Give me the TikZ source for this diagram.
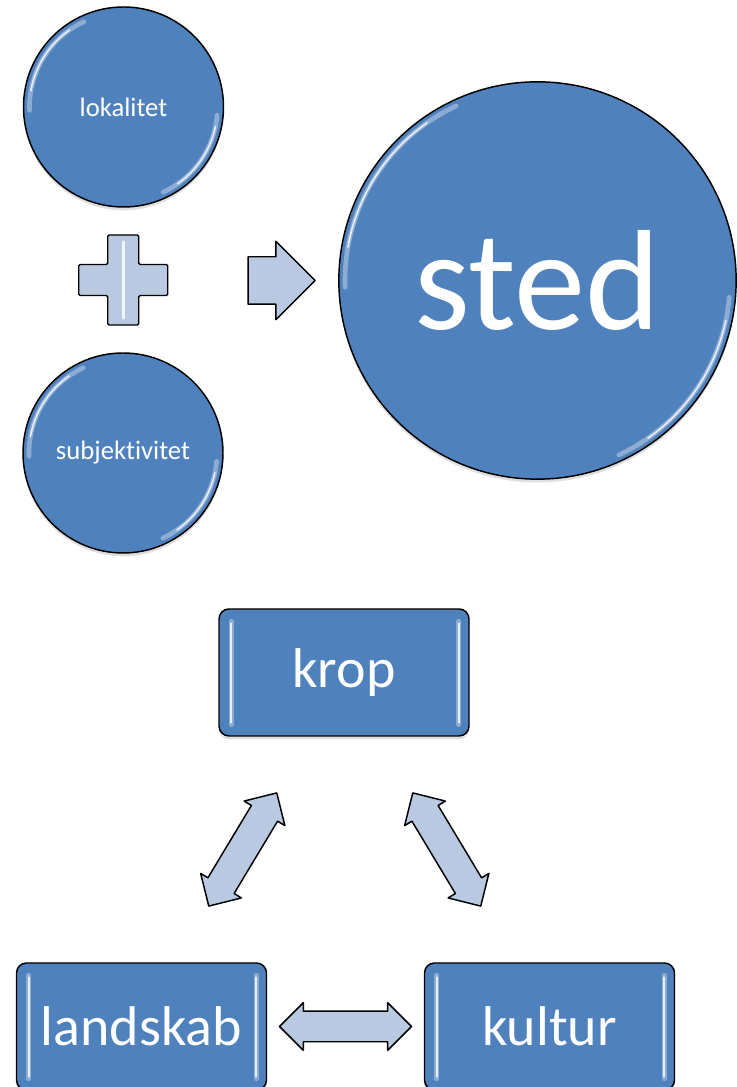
\documentclass[tikz,border=0pt]{standalone}
\usepackage{fontspec}
\setmainfont{Carlito}[RawFeature=-liga]
\usetikzlibrary{shapes.arrows,shadows,calc,positioning}

\definecolor{accent}{RGB}{79,129,189}
\definecolor{arrowfill}{RGB}{185,201,226}

\tikzset{
  ball/.style={circle, draw=black, line width=1.1pt, fill=accent, text=white, inner sep=0pt,
    drop shadow={opacity=0.25, shadow xshift=0pt, shadow yshift=-2.5pt}},
  tile/.style={rectangle, rounded corners=7.5pt, draw=black, line width=1.1pt, fill=accent, text=white,
    minimum width=187.5pt, minimum height=95.25pt, inner sep=0pt, font=\fontsize{42}{42}\selectfont,
    drop shadow={opacity=0.25, shadow xshift=0pt, shadow yshift=-2.5pt}},
  glint/.style={white, opacity=0.35, line width=3.5pt, line cap=round},
  spark/.style={white, opacity=0.8, line width=1.2pt, line cap=round},
  bevel/.style={draw=black, line width=1.1pt, fill=arrowfill, line join=round},
  link/.style={double arrow, bevel, minimum height=99pt, inner sep=0pt, inner ysep=10.9pt,
    double arrow head extend=6.4pt}
}

\begin{document}
\begin{tikzpicture}[x=0.75pt, y=0.75pt]
  \useasboundingbox (0,0) rectangle (737,1087);

  % Top part: lokalitet + subjektivitet => sted
  \node[ball, minimum size=150pt, font=\fontsize{20}{20}\selectfont] (lokalitet) at (123.5,980) {lokalitet};
  \node[ball, minimum size=150pt, font=\fontsize{20}{20}\selectfont] (subjektivitet) at (123,634) {subjektivitet};
  \node[ball, minimum size=298pt, font=\fontsize{107}{107}\selectfont] (sted) at (537.5,806.5) {sted};

  % Glossy highlights on the circles
  \foreach \n/\r in {lokalitet/100, subjektivitet/100, sted/198.5} {
    \draw[glint] (\n.center) ++(115:\r-6) arc[start angle=115, end angle=182, radius=\r-6];
    \draw[glint] (\n.center) ++(-5:\r-6) arc[start angle=-5, end angle=-65, radius=\r-6];
    \draw[spark] (\n.center) ++(125:\r-6) arc[start angle=125, end angle=170, radius=\r-6];
    \draw[spark] (\n.center) ++(-12:\r-6) arc[start angle=-12, end angle=-55, radius=\r-6];
  }

  % Plus sign between the two small circles
  \coordinate (plusc) at ($(lokalitet.south)!0.5!(subjektivitet.north)$);
  \draw[bevel, rounded corners=1pt, shift={(plusc)}] (-15.5,-45) -- (15.5,-45) -- (15.5,-15.5) -- (44.5,-15.5)
    -- (44.5,15.5) -- (15.5,15.5) -- (15.5,45) -- (-15.5,45) -- (-15.5,15.5) -- (-44.5,15.5)
    -- (-44.5,-15.5) -- (-15.5,-15.5) -- cycle;
  \draw[spark, line width=2.5pt, shift={(plusc)}] (0,-38) -- (0,38); % bevel ridge

  % Arrow into sted
  \node[single arrow, bevel, minimum height=50.25pt, inner sep=0pt, inner ysep=17.25pt,
    single arrow head extend=11.6pt, anchor=tip] (into) at ([xshift=-16.5pt]sted.west) {};

  % Bottom part: krop, landskab, kultur
  \node[tile] (krop) at (344,414.5) {krop};
  \node[tile] (landskab) at (141.5,60.5) {landskab};
  \node[tile] (kultur) at (549.5,60.5) {kultur};

  % Highlight strips on the boxes
  \foreach \n in {krop, landskab, kultur} {
    \draw[glint] ([shift={(13,-13)}]\n.north west) -- ([shift={(13,12)}]\n.south west);
    \draw[glint] ([shift={(-11,-13)}]\n.north east) -- ([shift={(-11,12)}]\n.south east);
    \draw[spark] ([shift={(13,-15)}]\n.north west) -- ([shift={(13,14)}]\n.south west);
    \draw[spark] ([shift={(-11,-15)}]\n.north east) -- ([shift={(-11,14)}]\n.south east);
  }

  % Double arrows between the boxes
  \node[link, rotate=59] (krop-landskab) at ($(krop.south west)!0.5!(landskab.north east)$) {};
  \node[link, rotate=-59] (krop-kultur) at ($(krop.south east)!0.5!(kultur.north west)$) {};
  \node[link] (landskab-kultur) at ($(landskab.east)!0.5!(kultur.west)$) {};
\end{tikzpicture}
\end{document}
